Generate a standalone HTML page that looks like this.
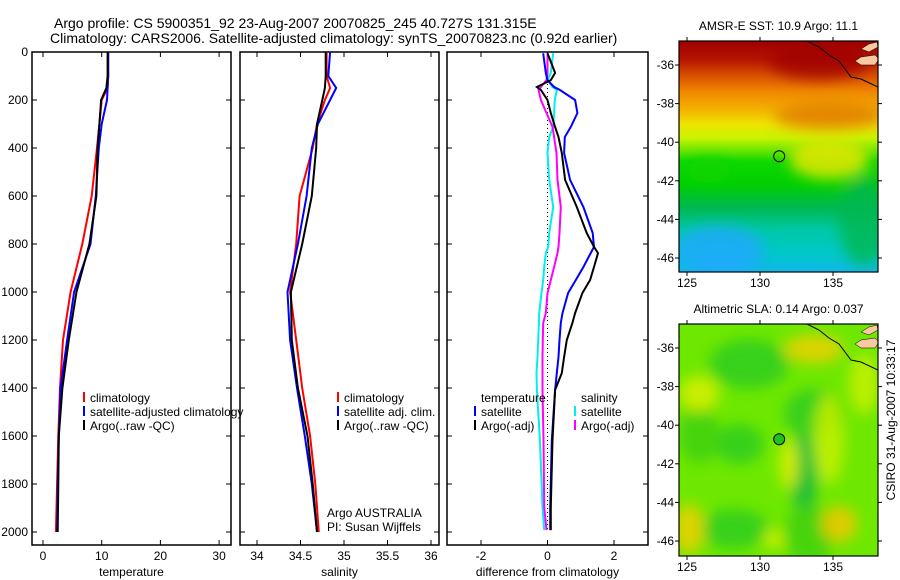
<!DOCTYPE html>
<html><head><meta charset="utf-8"><style>
body{margin:0;background:#fff}
svg{display:block;font-family:"Liberation Sans",sans-serif}
</style></head><body>
<svg id="s" width="900" height="580" viewBox="0 0 900 580" xmlns="http://www.w3.org/2000/svg">
<defs>
<linearGradient id="sstg" x1="0" y1="0" x2="0" y2="1">
<stop offset="0" stop-color="#a00000"/><stop offset="0.08" stop-color="#b41400"/><stop offset="0.15" stop-color="#d85000"/>
<stop offset="0.22" stop-color="#f08800"/><stop offset="0.3" stop-color="#f4b400"/><stop offset="0.36" stop-color="#eee400"/>
<stop offset="0.42" stop-color="#c8f400"/><stop offset="0.48" stop-color="#60e400"/><stop offset="0.52" stop-color="#10d800"/>
<stop offset="0.62" stop-color="#00d000"/><stop offset="0.72" stop-color="#00b850"/><stop offset="0.82" stop-color="#00c8a8"/>
<stop offset="0.92" stop-color="#00c8c8"/><stop offset="1" stop-color="#10b8e8"/></linearGradient>
<filter id="bl" x="-50%" y="-50%" width="200%" height="200%"><feGaussianBlur stdDeviation="7"/></filter>
<clipPath id="c1"><rect x="679" y="41" width="199" height="231"/></clipPath>
<clipPath id="c2"><rect x="679" y="324" width="199" height="232"/></clipPath>
</defs>
<g id="titles" font-size="14">
<text x="54" y="28">Argo profile: CS 5900351_92 23-Aug-2007 20070825_245 40.727S 131.315E</text>
<text x="50" y="43">Climatology: CARS2006. Satellite-adjusted climatology: synTS_20070823.nc (0.92d earlier)</text>
</g>
<g id="maps"></g>
<g id="panels"></g>
</svg>
<script>
// ---- data (depth in m) ----
const depths=[0,100,150,200,300,400,600,800,1000,1200,1400,1600,1800,2000];
const tempClim=[11.1,11.1,11.0,10.0,9.6,9.2,8.3,6.7,4.7,3.4,2.9,2.6,2.4,2.2];
const tempSat=[11.1,11.1,11.0,10.9,10.0,9.5,9.0,8.1,5.3,4.1,3.0,2.7,2.5,2.4];
const tempArgo=[11.0,11.0,10.8,9.9,9.6,9.3,9.1,7.9,5.7,4.4,3.3,2.7,2.6,2.5];
const salClim=[34.80,34.80,34.84,34.78,34.69,34.64,34.49,34.45,34.38,34.45,34.52,34.61,34.67,34.71];
const salSat=[34.84,34.82,34.91,34.84,34.70,34.63,34.57,34.47,34.35,34.38,34.46,34.55,34.63,34.69];
const salArgo=[34.79,34.79,34.78,34.75,34.69,34.68,34.63,34.52,34.39,34.40,34.47,34.58,34.64,34.69];
const diffDepths=[5,87,117,146,158,200,254,312,354,421,533,646,754,812,838,896,950,1004,1088,1129,1200,1271,1338,1408,1617,1896,1992];
const dTempSat=[-0.13,-0.05,0,0.2,0.37,0.83,0.9,0.7,0.52,0.5,0.68,1.08,1.36,1.4,1.3,1.08,0.85,0.62,0.45,0.4,0.36,0.33,0.28,0.23,0.13,0.08,0.08];
const dTempArgo=[0,0.23,0.1,-0.32,-0.2,0,0.1,0.23,0.33,0.43,0.53,0.88,1.18,1.4,1.52,1.4,1.28,1.05,0.83,0.75,0.58,0.5,0.43,0.23,0.15,0.1,0.1];
const dSalSat=[0.17,0.1,0,0.15,0.28,0.22,0.2,0.17,0.05,0,0.05,0.17,0.05,0.02,-0.05,-0.1,-0.13,-0.18,-0.25,-0.26,-0.28,-0.3,-0.33,-0.32,-0.23,-0.15,-0.1];
const dSalArgo=[0,0,-0.03,-0.2,-0.27,-0.2,-0.03,0.15,0.2,0.27,0.3,0.4,0.36,0.33,0.3,0.2,0.1,0,-0.05,-0.13,-0.14,-0.15,-0.15,-0.15,-0.12,-0.1,-0.03];
const depthTicks=[0,200,400,600,800,1000,1200,1400,1600,1800,2000];
const tempTicks=[0,10,20,30];
const salTicks=["34","34.5","35","35.5","36"];
const diffTicks=[-2,0,2];
const latTicks=[-36,-38,-40,-42,-44,-46];
const lonTicks=[125,130,135];

const NS='http://www.w3.org/2000/svg';
function mk(p,t,a){const e=document.createElementNS(NS,t);for(const k in a)e.setAttribute(k,a[k]);p.appendChild(e);return e;}
const P=document.getElementById('panels');
const yD=d=>52+d*0.24;
const PT=52,PB=545;
function panel(name,x0,x1,xs,ticks,label){
  const g=mk(P,'g',{});
  
  
  const r=mk(g,'rect',{x:x0,y:PT,width:x1-x0,height:PB-PT,fill:'none',stroke:'#000','stroke-width':1.5});
  
  
  depthTicks.forEach(d=>{const y=yD(d);mk(g,'line',{x1:x0,x2:x0+5,y1:y,y2:y,stroke:'#000'});mk(g,'line',{x1:x1-5,x2:x1,y1:y,y2:y,stroke:'#000'});});
  ticks.forEach(t=>{const x=xs(+t);mk(g,'line',{x1:x,x2:x,y1:PB,y2:PB-5,stroke:'#000'});mk(g,'line',{x1:x,x2:x,y1:PT,y2:PT+5,stroke:'#000'});
    const tl=mk(g,'text',{x:x,y:PB+15,'text-anchor':'middle','font-size':12});tl.textContent=t;
    
    });
  const xl=mk(g,'text',{x:(x0+x1)/2,y:PB+31,'text-anchor':'middle','font-size':12});xl.textContent=label;
  
  
  return g;
}
function line(g,name,xs,vals,ds,col,w){
  const pts=vals.map((v,i)=>xs(v).toFixed(1)+','+yD(ds[i]).toFixed(1)).join(' ');
  const l=mk(g,'polyline',{points:pts,fill:'none',stroke:col,'stroke-width':w||2});
  
  
}
function legend(g,x,y,items){
  items.forEach((it,i)=>{const yy=y+i*14;
    if(it[1])mk(g,'rect',{x:x,y:yy-10,width:2,height:10,fill:it[1]});
    const t=mk(g,'text',{x:x+7,y:yy,'font-size':12});t.textContent=it[0];
    
    });
}
depthTicks.forEach(d=>{const t=mk(P,'text',{x:28,y:yD(d)+4,'text-anchor':'end','font-size':12});t.textContent=d;
  
  });
const xT=v=>43+v*5.87;
let g=panel('temperature',32,231,xT,tempTicks,'temperature');
line(g,'temp-climatology-line',xT,tempClim,depths,'#f00');
line(g,'temp-satellite-line',xT,tempSat,depths,'#00f');
line(g,'temp-argo-line',xT,tempArgo,depths,'#000');
legend(g,83,402,[['climatology','#f00'],['satellite-adjusted climatology','#00f'],['Argo(..raw -QC)','#000']]);
const xS=v=>257+(v-34)*87;
g=panel('salinity',240,439,xS,salTicks,'salinity');
line(g,'sal-climatology-line',xS,salClim,depths,'#f00');
line(g,'sal-satellite-line',xS,salSat,depths,'#00f');
line(g,'sal-argo-line',xS,salArgo,depths,'#000');
legend(g,337,402,[['climatology','#f00'],['satellite adj. clim.','#00f'],['Argo(..raw -QC)','#000']]);
let t=mk(g,'text',{x:327,y:517,'font-size':12});t.textContent='Argo AUSTRALIA';
t=mk(g,'text',{x:327,y:531,'font-size':12});t.textContent='PI: Susan Wijffels';
const xDf=v=>547.5+v*33.25;
g=panel('difference',447,648,xDf,diffTicks,'difference from climatology');
mk(g,'line',{x1:xDf(0),x2:xDf(0),y1:yD(0),y2:yD(2000),stroke:'#000','stroke-dasharray':'1,3'});
line(g,'diff-sal-satellite-line',xDf,dSalSat,diffDepths,'#0ee');
line(g,'diff-sal-argo-line',xDf,dSalArgo,diffDepths,'#f0f');
line(g,'diff-temp-satellite-line',xDf,dTempSat,diffDepths,'#00f');
line(g,'diff-temp-argo-line',xDf,dTempArgo,diffDepths,'#000');
legend(g,474,402,[['temperature',null],['satellite','#00f'],['Argo(-adj)','#000']]);
legend(g,574,402,[['salinity',null],['satellite','#0ee'],['Argo(-adj)','#f0f']]);

// ---- maps ----
const M=document.getElementById('maps');
function map(name,top,bot,title,fill){
  const mg=mk(M,'g',{});
  
  
  const L=679,R=878;
  const yL=lat=>top+24+(-36-lat)*19.3;
  const xL=lon=>687+(lon-125)*14.6;
  const inner=mk(mg,'g',{'clip-path':'url(#'+(name==='sst'?'c1':'c2')+')'});
  fill(inner,L,top,R-L,bot-top);
  mk(inner,'path',{d:`M${L+128} ${top} L${L+140} ${top+6} L${L+150} ${top+14} L${L+160} ${top+20} L${L+166} ${top+28} L${L+172} ${top+36} L${L+182} ${top+38} L${R} ${top+46}`,fill:'none',stroke:'#000','stroke-width':1});
  mk(inner,'path',{d:`M${L+176} ${top+20} l6 -4 l14 -2 l4 4 l-4 6 l-14 0 z`,fill:'#f8c8a0',stroke:'#000','stroke-width':0.5});
  mk(inner,'path',{d:`M${L+182} ${top+8} l8 -5 l8 -2 l1 5 l-9 5 z`,fill:'#f8c8a0',stroke:'#000','stroke-width':0.5});
  const c=mk(mg,'circle',{cx:xL(131.315),cy:yL(-40.727),r:5.5,fill:name==='sst'?'none':'#20c020',stroke:'#000','stroke-width':1});
  
  
  mk(mg,'rect',{x:L,y:top,width:R-L,height:bot-top,fill:'none',stroke:'#000','stroke-width':1.2});
  latTicks.forEach(la=>{const y=yL(la);mk(mg,'line',{x1:L-4,x2:L,y1:y,y2:y,stroke:'#000'});mk(mg,'line',{x1:R,x2:R+4,y1:y,y2:y,stroke:'#000'});
    const tt=mk(mg,'text',{x:L-5,y:y+4,'text-anchor':'end','font-size':12});tt.textContent=la;
    
    });
  lonTicks.forEach(lo=>{const x=xL(lo);mk(mg,'line',{x1:x,x2:x,y1:bot,y2:bot+4,stroke:'#000'});mk(mg,'line',{x1:x,x2:x,y1:top-4,y2:top,stroke:'#000'});
    const tt=mk(mg,'text',{x:x,y:bot+15,'text-anchor':'middle','font-size':12});tt.textContent=lo;
    
    });
  const ti=mk(mg,'text',{x:(L+R)/2,y:top-11,'text-anchor':'middle','font-size':12});ti.textContent=title;
  
  
}
map('sst',41,272,'AMSR-E SST: 10.9 Argo: 11.1',(g,x,y,w,h)=>{
  mk(g,'rect',{x,y,width:w,height:h,fill:'url(#sstg)'});
  const b=mk(g,'g',{filter:'url(#bl)'});
  mk(b,'ellipse',{cx:x+150,cy:y+75,rx:55,ry:14,fill:'#e07800',opacity:0.8});
  mk(b,'ellipse',{cx:x+140,cy:y+20,rx:50,ry:18,fill:'#a00000',opacity:0.8});
  mk(b,'ellipse',{cx:x+150,cy:y+118,rx:40,ry:20,fill:'#e8e800',opacity:0.85});
  mk(b,'ellipse',{cx:x+30,cy:y+130,rx:22,ry:12,fill:'#10d400',opacity:0.8});
  mk(b,'ellipse',{cx:x+40,cy:y+210,rx:45,ry:25,fill:'#20a8ff',opacity:0.8});
  mk(b,'ellipse',{cx:x+185,cy:y+180,rx:25,ry:45,fill:'#00b850',opacity:0.8});
});
map('sla',324,556,'Altimetric SLA: 0.14 Argo: 0.037',(g,x,y,w,h)=>{
  mk(g,'rect',{x,y,width:w,height:h,fill:'#6ee800'});
  const b=mk(g,'g',{filter:'url(#bl)'});
  [[70,40,40,25,'#30cc20'],[60,120,25,20,'#30cc20'],[135,90,30,25,'#30cc20'],[125,150,14,40,'#10b840'],[20,110,20,30,'#40d010'],[55,205,35,20,'#30cc20'],[130,210,25,30,'#40d010'],
   [20,70,20,18,'#d8f000'],[135,25,30,14,'#f0d000'],[150,115,15,45,'#c8f000'],[110,140,10,25,'#e0f000'],[160,200,18,18,'#f0c800'],[10,205,15,25,'#f0d000'],[95,215,10,10,'#d8f000'],[185,60,15,30,'#c8f000']
  ].forEach(e=>mk(b,'ellipse',{cx:x+e[0],cy:y+e[1],rx:e[2],ry:e[3],fill:e[4],opacity:0.85}));
});
const side=mk(M,'text',{x:895,y:420,'text-anchor':'middle','font-size':12,transform:'rotate(-90 895 420)'});
side.textContent='CSIRO 31-Aug-2007 10:33:17';


</script>
</body></html>
